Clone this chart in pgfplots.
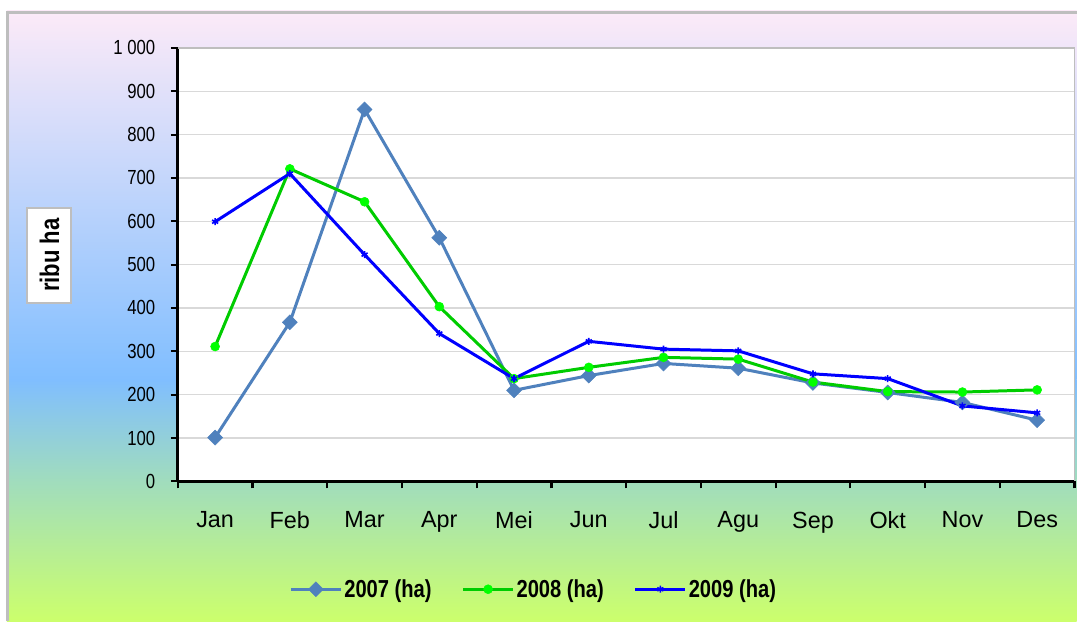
\documentclass[border=0pt]{standalone}
\usepackage{pgfplots}
\pgfplotsset{compat=1.18}
\usepackage{fontspec}
\setmainfont{Liberation Sans}
\newfontfamily\narrow[FakeStretch=0.82]{Liberation Sans}
\definecolor{c2007}{RGB}{79,129,189}
\definecolor{c2008l}{RGB}{0,204,0}
\definecolor{c2008m}{RGB}{0,255,0}
\definecolor{c2009}{RGB}{0,0,255}
\definecolor{bgA}{RGB}{252,234,248}
\definecolor{bgB}{RGB}{128,190,255}
\definecolor{bgC}{RGB}{160,220,190}
\definecolor{bgD}{RGB}{204,255,108}
\definecolor{frame}{RGB}{190,190,190}
\definecolor{gridc}{RGB}{217,217,217}
\begin{document}
\begin{tikzpicture}[x=1bp,y=1bp]
\fill[white] (0,0) rectangle (1078,622);
\shade[top color=bgA,bottom color=bgB] (7,241.5) rectangle (1078,611);
\shade[top color=bgB,bottom color=bgC] (7,141.5) rectangle (1078,242);
\shade[top color=bgC,bottom color=bgD] (7,0) rectangle (1078,142);
\draw[frame,line width=3bp] (7.5,0) -- (7.5,609.5) -- (1078,609.5);
\begin{axis}[
  at={(178bp,140bp)}, anchor=south west,
  scale only axis, width=898bp, height=434bp,
  xmin=-0.5, xmax=11.5, ymin=0, ymax=1000,
  axis background/.style={fill=white},
  axis lines*=left,
  axis line style={black, line width=3bp},
  xtick={0,...,11},
  xticklabels={Jan,Feb,Mar,Apr,Mei,Jun,Jul,Agu,Sep,Okt,Nov,Des},
  minor xtick={-0.5,0.5,...,11.5},
  major x tick style={draw=none},
  minor x tick style={black, line width=2.2bp},
  minor tick length=7bp,
  ytick={0,100,...,1000},
  yticklabels={0,100,200,300,400,500,600,700,800,900,1 000},
  major y tick style={black, line width=2.2bp},
  major tick length=7bp,
  tick align=outside,
  xtick pos=left, ytick pos=left,
  ymajorgrids,
  grid style={gridc, line width=1.3bp},
  xticklabel style={font=\fontsize{23.5}{28}\selectfont, yshift=-20bp},
  yticklabel style={font=\narrow\fontsize{20.5}{24}\selectfont, xshift=-12bp},
  legend style={at={(0.397,-0.249)}, anchor=center, draw=none, fill=none,
    font=\narrow\bfseries\fontsize{24.7}{28}\selectfont,
    legend columns=3,
    /tikz/every even column/.append style={column sep=28bp}},
  legend image code/.code={\draw[mark repeat=2,mark phase=2,#1] plot coordinates {(0bp,0bp) (25bp,0bp) (50bp,0bp)};},
  clip=false,
]
\addplot[c2007, line width=3bp, mark=square*, mark size=5.3bp, mark options={rotate=45, fill=c2007, draw=c2007, line width=0.5bp}]
coordinates {(0,101) (1,367) (2,858) (3,562) (4,210) (5,244) (6,272) (7,261) (8,227) (9,205) (10,182) (11,141)};
\addlegendentry{2007 (ha)}
\addplot[c2008l, line width=3bp, mark=*, mark size=4.5bp, mark options={fill=c2008m, draw=c2008m, line width=0.5bp}]
coordinates {(0,311) (1,721) (2,645) (3,403) (4,237) (5,263) (6,286) (7,282) (8,229) (9,207) (10,206) (11,211)};
\addlegendentry{2008 (ha)}
\addplot[c2009, line width=3bp, mark=asterisk, mark size=3.5bp, mark options={line width=1.6bp}]
coordinates {(0,599) (1,710) (2,523) (3,341) (4,237) (5,323) (6,305) (7,301) (8,248) (9,237) (10,174) (11,158)};
\addlegendentry{2009 (ha)}
\draw[frame, line width=1.5bp] (rel axis cs:0,1) -- (rel axis cs:1,1) -- (rel axis cs:1,0);
\end{axis}
\node[draw=frame, line width=2bp, fill=white, rotate=90, inner sep=0pt,
  minimum width=95bp, minimum height=44bp,
  font=\narrow\bfseries\fontsize{27}{30}\selectfont] at (49.5,366.5) {ribu ha};
\end{tikzpicture}
\end{document}
